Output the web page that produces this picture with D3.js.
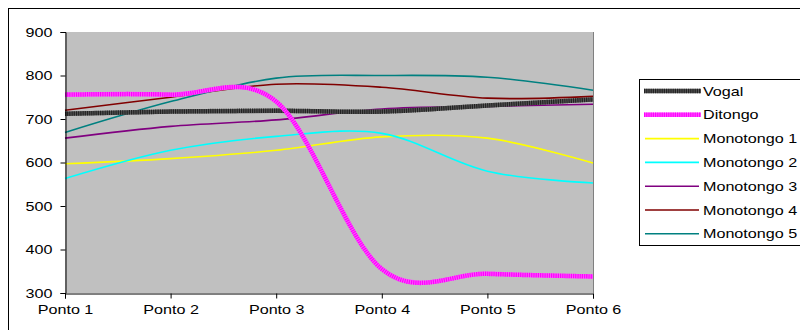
<!DOCTYPE html>
<html>
<head>
<meta charset="utf-8">
<script src="https://cdn.jsdelivr.net/npm/d3@7"></script>
<style>
  html, body { margin: 0; padding: 0; background: #fff; }
  svg { display: block; font-family: "Liberation Sans", Arial, sans-serif; }
</style>
</head>
<body>
<svg id="chart" width="800" height="330"></svg>
<script>
// Categories along the x axis
const categories = ["Ponto 1", "Ponto 2", "Ponto 3", "Ponto 4", "Ponto 5", "Ponto 6"];
// Y axis tick values
const yTicks = [300, 400, 500, 600, 700, 800, 900];

// Series values (one per Ponto)
const vogal      = [712, 717, 719, 717, 731, 745];
const ditongo    = [756, 756, 740, 355, 344, 338];
const monotongo1 = [597, 609, 628, 659, 656, 599];
const monotongo2 = [563, 628, 660, 667, 580, 553];
const monotongo3 = [656, 683, 698, 723, 729, 734];
const monotongo4 = [720, 750, 780, 773, 748, 752];
const monotongo5 = [669, 740, 794, 800, 796, 766];

const seriesNames = ["Vogal", "Ditongo", "Monotongo 1", "Monotongo 2", "Monotongo 3", "Monotongo 4", "Monotongo 5"];
const seriesValues = [vogal, ditongo, monotongo1, monotongo2, monotongo3, monotongo4, monotongo5];
const seriesColors = ["#3a3a3a", "#ff00ff", "#ffff00", "#00ffff", "#800080", "#800000", "#008080"];

// Text is drawn a little wider than the font's natural width
const STRETCH = 1.24;
function widen(sel) {
  sel.each(function () {
    const w = this.getComputedTextLength();
    d3.select(this).attr("textLength", w * STRETCH).attr("lengthAdjust", "spacingAndGlyphs");
  });
}

const svg = d3.select("#chart");

// Outer chart frame
svg.append("rect")
  .attr("x", 8.5).attr("y", 8.5)
  .attr("width", 800).attr("height", 340)
  .attr("fill", "#fff").attr("stroke", "#000").attr("stroke-width", 1);

const plot = { left: 65, right: 593, top: 32, bottom: 293 };

const x = d3.scalePoint().domain(categories).range([plot.left, plot.right]);
const y = d3.scaleLinear().domain([300, 900]).range([plot.bottom, plot.top]);

// Plot area
svg.append("rect")
  .attr("x", plot.left).attr("y", plot.top)
  .attr("width", plot.right - plot.left).attr("height", plot.bottom - plot.top)
  .attr("fill", "#c0c0c0");
svg.append("line")
  .attr("x1", plot.right + 0.5).attr("x2", plot.right + 0.5)
  .attr("y1", plot.top).attr("y2", plot.bottom)
  .attr("stroke", "#808080").attr("stroke-width", 1);

// Smoothed lines
const line = d3.line()
  .x((d, i) => x(categories[i]))
  .y(d => y(d))
  .curve(d3.curveCardinal.tension(0));

const gLines = svg.append("g");
// thin series first, then the two thick ones on top
const order = [2, 3, 4, 5, 6, 0, 1];
order.forEach(k => {
  const vals = seriesValues[k];
  if (k === 0) {
    gLines.append("path").attr("d", line(vals)).attr("fill", "none")
      .attr("stroke", "#5a5a5a").attr("stroke-width", 4.5);
    gLines.append("path").attr("d", line(vals)).attr("fill", "none")
      .attr("stroke", "#222").attr("stroke-width", 4.5).attr("stroke-dasharray", "1.2 1");
  } else if (k === 1) {
    gLines.append("path").attr("d", line(vals)).attr("fill", "none")
      .attr("stroke", "#ff55ff").attr("stroke-width", 4.5);
    gLines.append("path").attr("d", line(vals)).attr("fill", "none")
      .attr("stroke", "#ff00ff").attr("stroke-width", 4.5).attr("stroke-dasharray", "1.2 1");
  } else {
    gLines.append("path").attr("d", line(vals)).attr("fill", "none")
      .attr("stroke", seriesColors[k]).attr("stroke-width", 1.6);
  }
});

// Axes
const yAxis = d3.axisLeft(y).tickValues(yTicks).tickSize(5).tickPadding(8).tickFormat(d3.format("d"));
const gy = svg.append("g").attr("transform", `translate(${plot.left + 0.5},0)`).call(yAxis);
gy.select(".domain").attr("stroke", "#000");
gy.selectAll(".tick line").attr("stroke", "#000");
gy.selectAll("text").attr("font-size", 13).attr("fill", "#000")
  .attr("font-family", "Liberation Sans, Arial, sans-serif").call(widen);

const xAxis = d3.axisBottom(x).tickSize(5).tickPadding(6);
const gx = svg.append("g").attr("transform", `translate(0,${plot.bottom + 0.5})`).call(xAxis);
gx.select(".domain").attr("stroke", "#000");
gx.selectAll(".tick line").attr("stroke", "#000");
gx.selectAll("text").attr("font-size", 13).attr("fill", "#000")
  .attr("font-family", "Liberation Sans, Arial, sans-serif").call(widen);

// Legend
const legend = svg.append("g");
legend.append("rect")
  .attr("x", 639.5).attr("y", 79.5).attr("width", 200).attr("height", 166)
  .attr("fill", "#fff").attr("stroke", "#000").attr("stroke-width", 1);
seriesNames.forEach((name, i) => {
  const ly = 91 + i * 23.8;
  if (i === 0 || i === 1) {
    legend.append("line").attr("x1", 644).attr("x2", 701).attr("y1", ly).attr("y2", ly)
      .attr("stroke", i === 0 ? "#5a5a5a" : "#ff55ff").attr("stroke-width", 4.5);
    legend.append("line").attr("x1", 644).attr("x2", 701).attr("y1", ly).attr("y2", ly)
      .attr("stroke", i === 0 ? "#222" : "#ff00ff").attr("stroke-width", 4.5)
      .attr("stroke-dasharray", "1.2 1");
  } else {
    legend.append("line").attr("x1", 645).attr("x2", 699).attr("y1", ly).attr("y2", ly)
      .attr("stroke", seriesColors[i]).attr("stroke-width", 1.6);
  }
  legend.append("text").attr("x", 703).attr("y", ly + 4.5)
    .attr("font-size", 13).attr("fill", "#000").text(name).call(widen);
});
</script>
</body>
</html>
